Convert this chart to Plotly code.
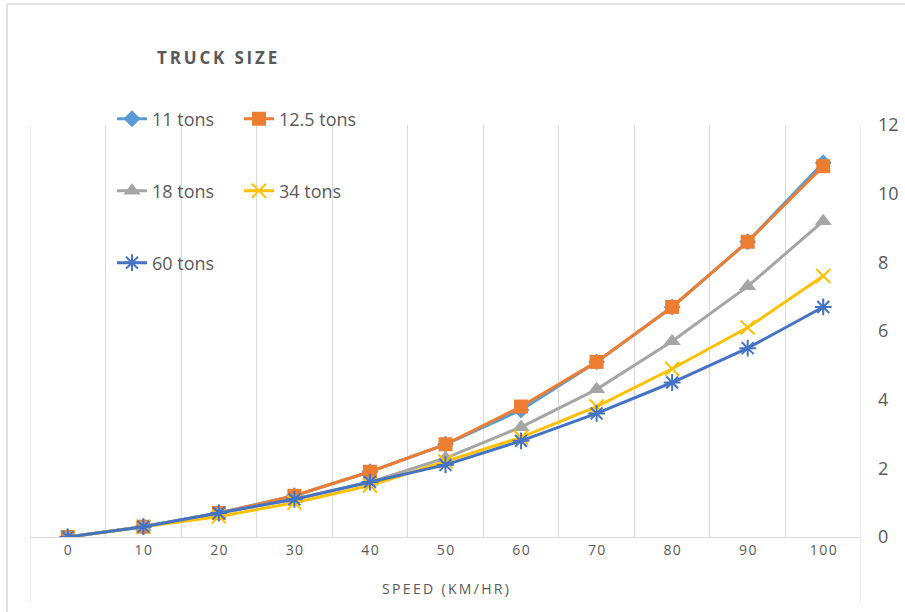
import plotly.graph_objects as go

# Fuel use by speed for each truck size
speed = [0, 10, 20, 30, 40, 50, 60, 70, 80, 90, 100]
tons_11 = [0, 0.3, 0.7, 1.2, 1.9, 2.7, 3.7, 5.1, 6.7, 8.6, 10.9]
tons_12_5 = [0, 0.3, 0.7, 1.2, 1.9, 2.7, 3.8, 5.1, 6.7, 8.6, 10.8]
tons_18 = [0, 0.3, 0.7, 1.1, 1.6, 2.3, 3.2, 4.3, 5.7, 7.3, 9.2]
tons_34 = [0, 0.3, 0.6, 1.0, 1.5, 2.2, 2.9, 3.8, 4.9, 6.1, 7.6]
tons_60 = [0, 0.3, 0.7, 1.1, 1.6, 2.1, 2.8, 3.6, 4.5, 5.5, 6.7]
y_ticks = [0, 2, 4, 6, 8, 10, 12]

HAIR = "\u200a"
THIN = "\u2009"
NBSP = "\u00a0"


def spaced(text, sep):
    # letter-spaced label; word gaps kept as non-breaking spaces
    words = text.split(" ")
    return (sep + NBSP + sep).join(sep.join(w) for w in words)


FONT = "Open Sans"
GREY = "#595959"
GRID = "#d9d9d9"

series = [
    ("11 tons", tons_11, "#5B9BD5", "diamond", 13, "legend"),
    ("12.5 tons", tons_12_5, "#ED7D31", "square", 14, "legend"),
    ("18 tons", tons_18, "#A5A5A5", "triangle-up", 15, "legend2"),
    ("34 tons", tons_34, "#FFC000", "x-thin-open", 14, "legend2"),
    ("60 tons", tons_60, "#4472C4", "asterisk-open", 14, "legend3"),
]

fig = go.Figure()
for name, vals, color, symbol, size, leg in series:
    open_sym = symbol.endswith("open")
    fig.add_trace(go.Scatter(
        x=speed, y=vals, name=name, mode="lines+markers",
        line=dict(color=color, width=3),
        marker=dict(symbol=symbol, size=size, color=color,
                    line=dict(color=color, width=2 if open_sym else 0)),
        legend=leg,
    ))

legend_common = dict(
    orientation="h", xanchor="left", yanchor="middle",
    font=dict(family=FONT, size=18, color=GREY),
    bgcolor="rgba(0,0,0,0)", borderwidth=0,
    entrywidth=82, entrywidthmode="pixels", itemwidth=30,
)

# paper coordinates from the plot box: x 30..861 px, y 537..125 px
PX_L, PX_R, PX_B, PX_T = 30, 861, 537, 125


def px_x(p):
    return (p - PX_L) / (PX_R - PX_L)


def px_y(p):
    return (PX_B - p) / (PX_B - PX_T)


fig.update_layout(
    width=905, height=612,
    margin=dict(l=PX_L, r=905 - PX_R, t=PX_T, b=612 - PX_B),
    paper_bgcolor="white", plot_bgcolor="white",
    showlegend=True,
    legend=dict(x=px_x(112), y=px_y(119), **legend_common),
    legend2=dict(x=px_x(112), y=px_y(191), **legend_common),
    legend3=dict(x=px_x(112), y=px_y(263), **legend_common),
    xaxis=dict(
        range=[-5, 105], tickvals=speed,
        ticktext=[spaced(str(s), HAIR) for s in speed],
        tickfont=dict(family=FONT, size=14, color=GREY),
        showgrid=False, zeroline=False, ticks="",
        showline=True, linecolor=GRID, linewidth=1,
        minor=dict(tickvals=[s + 5 for s in speed[:-1]], showgrid=True,
                   gridcolor=GRID, gridwidth=1, ticks=""),
        title=dict(text=spaced("SPEED (KM/HR)", THIN),
                   font=dict(family=FONT, size=14, color=GREY), standoff=26),
        automargin=False, fixedrange=True,
    ),
    yaxis=dict(
        range=[0, 12], tickvals=y_ticks, side="right",
        tickfont=dict(family=FONT, size=18, color=GREY),
        showgrid=False, zeroline=False, ticks="", showline=False,
        ticklabelstandoff=16, automargin=False, fixedrange=True,
    ),
    annotations=[dict(
        text="<b>" + spaced("TRUCK SIZE", THIN) + "</b>",
        xref="paper", yref="paper", x=px_x(155), y=px_y(57),
        xanchor="left", yanchor="middle", showarrow=False,
        font=dict(family=FONT, size=17, color=GREY),
    )],
    shapes=[
        # outer edges of the category grid, running down past the axis
        dict(type="line", xref="x", yref="paper", x0=-5, x1=-5,
             y0=px_y(603), y1=1, line=dict(color=GRID, width=1)),
        dict(type="line", xref="x", yref="paper", x0=105, x1=105,
             y0=px_y(603), y1=1, line=dict(color=GRID, width=1)),
        # chart frame
        dict(type="line", xref="paper", yref="paper", x0=px_x(7), x1=px_x(7),
             y0=px_y(612), y1=px_y(4), line=dict(color=GRID, width=1.5)),
        dict(type="line", xref="paper", yref="paper", x0=px_x(7), x1=px_x(910),
             y0=px_y(4), y1=px_y(4), line=dict(color=GRID, width=1.5)),
    ],
)

fig.write_html("out.html")
